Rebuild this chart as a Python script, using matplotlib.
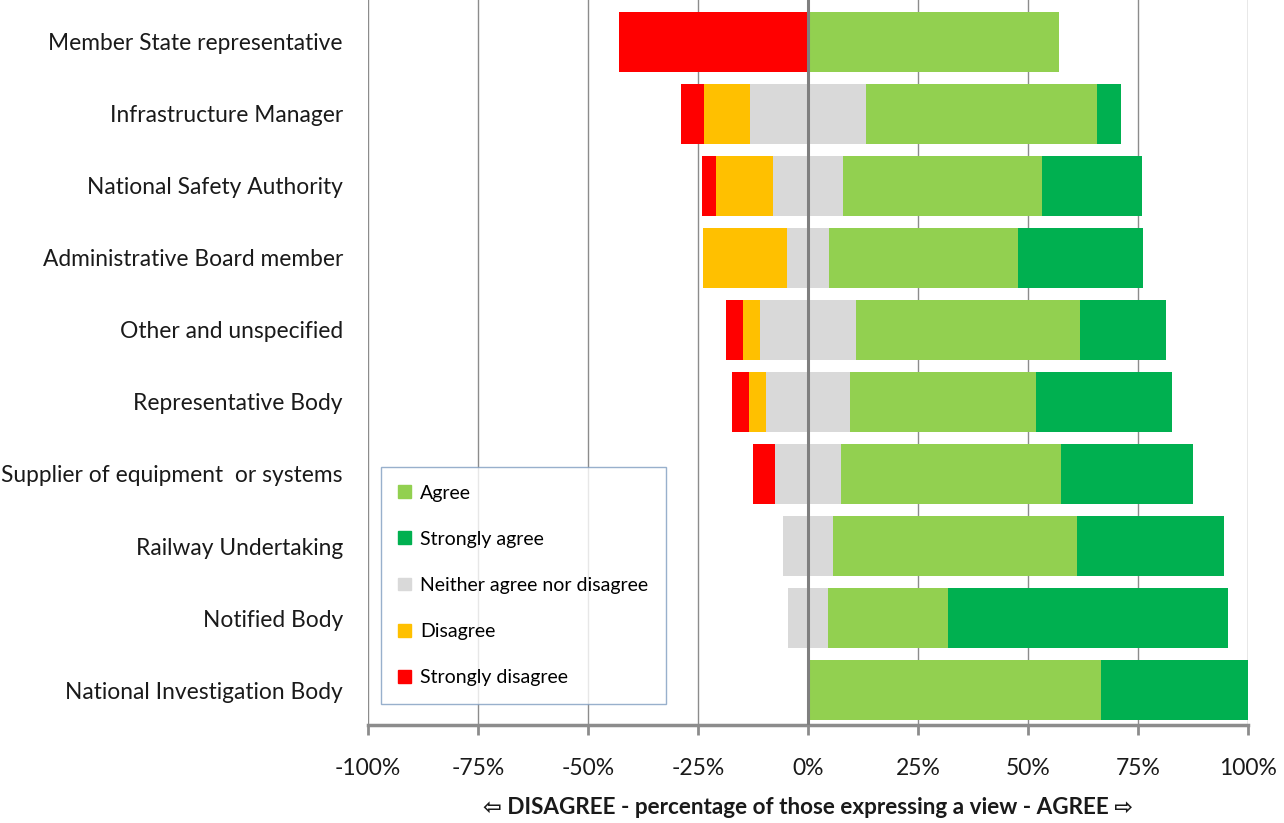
import matplotlib
matplotlib.use("Agg")
import matplotlib.pyplot as plt
from matplotlib.patches import Patch
from matplotlib.ticker import FuncFormatter

# respondent groups, top to bottom
groups = ["Member State representative", "Infrastructure Manager", "National Safety Authority",
          "Administrative Board member", "Other and unspecified", "Representative Body",
          "Supplier of equipment  or systems", "Railway Undertaking", "Notified Body",
          "National Investigation Body"]

# shares in % of those expressing a view
strongly_disagree = [42.9, 5.3, 3.2, 0.0, 3.9, 3.85, 5.0, 0.0, 0.0, 0.0]
disagree = [0.0, 10.5, 12.9, 19.05, 3.9, 3.85, 0.0, 0.0, 0.0, 0.0]
neither = [0.0, 26.3, 16.1, 9.5, 21.6, 19.2, 15.0, 11.3, 9.1, 0.0]
agree = [57.1, 52.6, 45.2, 42.9, 51.0, 42.3, 50.0, 55.5, 27.3, 66.7]
strongly_agree = [0.0, 5.3, 22.6, 28.6, 19.6, 30.8, 30.0, 33.3, 63.6, 33.3]

C_A, C_SA, C_N, C_D, C_SD = "#92D050", "#00B050", "#D9D9D9", "#FFC000", "#FF0000"
GRID = "#8c8c8c"
FONT = ["Lato", "DejaVu Sans"]
INK = "#1a1a1a"

fig = plt.figure(figsize=(12.84, 8.23), dpi=100)
ax = fig.add_axes([368 / 1284, 1 - 725 / 823, 880 / 1284, 725 / 823])

y = list(range(len(groups)))
h = 0.825
half_n = [n / 2 for n in neither]
left_n = [-v for v in half_n]
left_d = [-(a + b) for a, b in zip(half_n, disagree)]
left_sd = [-(a + b + c) for a, b, c in zip(half_n, disagree, strongly_disagree)]

ax.barh(y, half_n, left=left_n, height=h, color=C_N, zorder=2)
ax.barh(y, disagree, left=left_d, height=h, color=C_D, zorder=2)
ax.barh(y, strongly_disagree, left=left_sd, height=h, color=C_SD, zorder=2)
ax.barh(y, half_n, left=0, height=h, color=C_N, zorder=2)
ax.barh(y, agree, left=half_n, height=h, color=C_A, zorder=2)
ax.barh(y, strongly_agree, left=[a + b for a, b in zip(half_n, agree)], height=h, color=C_SA, zorder=2)

ax.axvline(0, color="#7f7f7f", linewidth=2.2, zorder=3)
ax.set_xlim(-100, 100)
ax.set_ylim(len(groups) - 1 + 0.486, -0.583)
ax.set_xticks(range(-100, 101, 25))
ax.xaxis.set_major_formatter(FuncFormatter(lambda v, p: f"{v:.0f}%"))
ax.xaxis.grid(True, color=GRID, linewidth=1.0, zorder=0)
ax.set_axisbelow(True)

ax.set_yticks(y)
ax.set_yticklabels(groups, fontsize=16.4, family=FONT, color=INK)
ax.tick_params(axis="y", length=0, pad=18)
ax.tick_params(axis="x", length=7, width=2, color=GRID, pad=17, labelsize=16.5, labelcolor=INK)
for lab in ax.get_xticklabels():
    lab.set_family(FONT)

for s in ("top", "right", "left"):
    ax.spines[s].set_visible(False)
ax.spines["bottom"].set_color(GRID)
ax.spines["bottom"].set_linewidth(2.5)

fig.text(808 / 1284, 1 - 808 / 823,
         "\u21e6 DISAGREE - percentage of those expressing a view - AGREE \u21e8",
         fontsize=16.2, fontweight="bold", family=FONT, color=INK, ha="center", va="center")

handles = [Patch(color=C_A, label="Agree"), Patch(color=C_SA, label="Strongly agree"),
           Patch(color=C_N, label="Neither agree nor disagree"), Patch(color=C_D, label="Disagree"),
           Patch(color=C_SD, label="Strongly disagree")]
leg = ax.legend(handles=handles, loc="upper left", bbox_to_anchor=(13 / 880, 1 - 467 / 725),
                frameon=True, fancybox=False, handlelength=0.65, handleheight=0.65,
                handletextpad=0.45, labelspacing=1.5, borderpad=0.9, borderaxespad=0,
                prop={"family": FONT, "size": 14})
leg.get_frame().set_edgecolor("#7f9cc0")
leg.get_frame().set_linewidth(1.0)
leg.set_zorder(5)

fig.savefig("out.png", dpi=100)
